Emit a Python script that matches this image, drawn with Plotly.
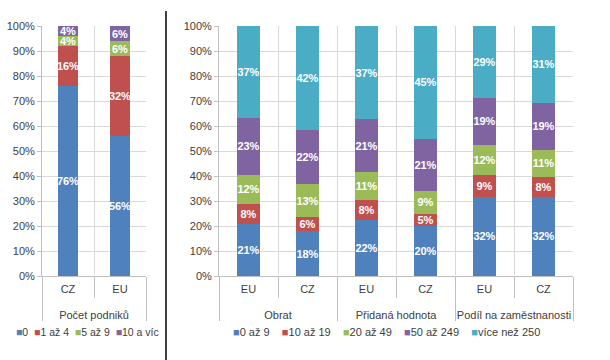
import plotly.graph_objects as go

# ---- data ----
left_groups = ["Počet podniků", "Počet podniků"]
left_cats = ["CZ", "EU"]
left_series = ["0", "1 až 4", "5 až 9", "10 a víc"]
left_values = {
    "0": [76, 56],
    "1 až 4": [16, 32],
    "5 až 9": [4, 6],
    "10 a víc": [4, 6],
}

right_groups = ["Obrat", "Obrat", "Přidaná hodnota", "Přidaná hodnota",
                "Podíl na zaměstnanosti", "Podíl na zaměstnanosti"]
right_cats = ["EU", "CZ", "EU", "CZ", "EU", "CZ"]
right_series = ["0 až 9", "10 až 19", "20 až 49", "50 až 249", "více než 250"]
right_values = {
    "0 až 9": [21, 18, 22, 20, 32, 32],
    "10 až 19": [8, 6, 8, 5, 9, 8],
    "20 až 49": [12, 13, 11, 9, 12, 11],
    "50 až 249": [23, 22, 21, 21, 19, 19],
    "více než 250": [37, 42, 37, 45, 29, 31],
}

colors = ["#4F81BD", "#C0504D", "#9BBB59", "#8064A2", "#4BACC6"]

FONT = "Liberation Sans"
TXT = "#404040"
GRID = "#D9D9D9"
AX = "#BFBFBF"

fig = go.Figure()


def outer(labels):
    # leading line break drops the group label a line lower, as in the original
    return ["<br>" + g for g in labels]


for i, name in enumerate(left_series):
    vals = left_values[name]
    fig.add_trace(go.Bar(
        x=[outer(left_groups), left_cats], y=vals, name=name,
        marker=dict(color=colors[i], line=dict(width=0)),
        text=[f"{v}%" for v in vals], textposition="inside", textangle=0,
        insidetextanchor="middle", constraintext="none",
        textfont=dict(color="white", size=11, family=FONT, weight="bold"),
        xaxis="x", yaxis="y", showlegend=False, hoverinfo="skip",
    ))

for i, name in enumerate(right_series):
    vals = right_values[name]
    fig.add_trace(go.Bar(
        x=[outer(right_groups), right_cats], y=vals, name=name,
        marker=dict(color=colors[i], line=dict(width=0)),
        text=[f"{v}%" for v in vals], textposition="inside", textangle=0,
        insidetextanchor="middle", constraintext="none",
        textfont=dict(color="white", size=11, family=FONT, weight="bold"),
        xaxis="x2", yaxis="y2", showlegend=False, hoverinfo="skip",
    ))

W, H = 610, 360
y_dom = [(H - 276) / H, (H - 26) / H]

common_x = dict(
    type="multicategory", showgrid=True, gridcolor=GRID, tickson="boundaries",
    ticks="outside", ticklen=21, tickcolor=AX, showline=True, linecolor=AX,
    showdividers=True, dividercolor=AX, dividerwidth=1, automargin=False,
    ticklabelstandoff=3,
    tickfont=dict(family=FONT, size=11, color=TXT), fixedrange=True,
)
common_y = dict(
    range=[0, 100], dtick=10, ticksuffix="%", showgrid=True, gridcolor=GRID,
    showline=True, linecolor=AX, ticks="outside", ticklen=4, tickcolor=AX,
    automargin=False, fixedrange=True,
    tickfont=dict(family=FONT, size=11, color=TXT), domain=y_dom,
)

fig.update_layout(
    width=W, height=H, margin=dict(l=0, r=0, t=0, b=0, pad=0, autoexpand=False),
    paper_bgcolor="white", plot_bgcolor="white",
    barmode="stack", barnorm="percent", bargap=0.6,
    xaxis=dict(domain=[42 / W, 146 / W], anchor="y", **common_x),
    yaxis=dict(anchor="x", **common_y),
    xaxis2=dict(domain=[219 / W, 573 / W], anchor="y2", **common_x),
    yaxis2=dict(anchor="x2", **common_y),
    showlegend=False,
)

# separator line between the two charts
fig.add_shape(type="line", xref="paper", yref="paper",
              x0=166 / W, x1=166 / W, y0=0, y1=(H - 11) / H,
              line=dict(color="black", width=1.5))


def legend_text(names, cols, gap):
    parts = [f"<span style='color:{c}'>■</span>{n}" for n, c in zip(names, cols)]
    return gap.join(parts)


fig.add_annotation(xref="paper", yref="paper", x=87 / W, y=(H - 332) / H,
                   xanchor="center", yanchor="middle",
                   text=legend_text(left_series, colors[:4], "  "), showarrow=False,
                   font=dict(family=FONT, size=10.5, color=TXT))
fig.add_annotation(xref="paper", yref="paper", x=386 / W, y=(H - 332) / H,
                   xanchor="center", yanchor="middle",
                   text=legend_text(right_series, colors, "    "), showarrow=False,
                   font=dict(family=FONT, size=11, color=TXT))

fig.write_html(
    "out.html",
    config={"displayModeBar": False},
    post_script="document.body.style.margin='0';document.body.style.overflow='hidden';",
)
